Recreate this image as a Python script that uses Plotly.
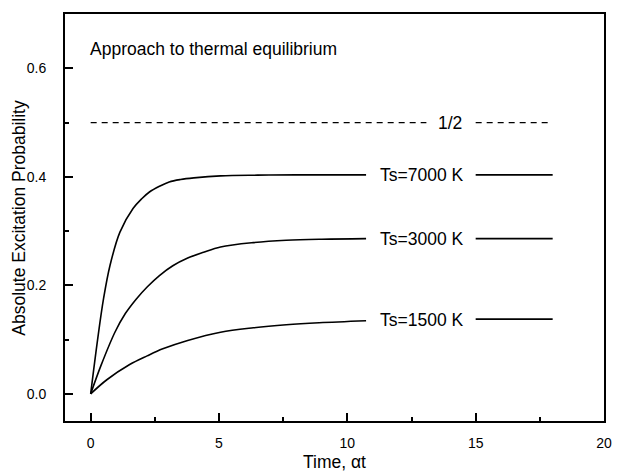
import plotly.graph_objects as go

# ---- data ----
t_7000 = [0, 0.27, 0.5, 0.755, 1.14, 1.65, 2.0, 2.29, 2.7, 3.06, 3.5, 4.02, 5.06, 6.5, 8.0, 10.73, None, 15.0, 18.0]
p_7000 = [0, 0.10, 0.175, 0.237, 0.298, 0.3415, 0.360, 0.372, 0.383, 0.3906, 0.395, 0.398, 0.4017, 0.403, 0.4035, 0.4036, None, 0.4036, 0.4036]

t_3000 = [0, 0.40, 0.95, 1.35, 1.78, 2.2, 2.68, 3.2, 3.78, 4.4, 5.06, 6.34, 7.62, 9.0, 10.73, None, 15.0, 18.0]
p_3000 = [0, 0.052, 0.114, 0.148, 0.175, 0.197, 0.218, 0.236, 0.2503, 0.261, 0.2707, 0.2787, 0.283, 0.285, 0.286, None, 0.286, 0.286]

t_1500 = [0, 0.63, 1.52, 2.2, 2.81, 3.78, 5.06, 6.34, 7.62, 8.9, 10.73, None, 15.0, 18.0]
p_1500 = [0, 0.026, 0.054, 0.070, 0.083, 0.0984, 0.1137, 0.1218, 0.1273, 0.131, 0.1347, None, 0.1378, 0.1378]

t_half = [0, 13.08, None, 15.0, 18.0]
p_half = [0.5, 0.5, None, 0.5, 0.5]

curve_labels = ["Ts=7000 K", "Ts=3000 K", "Ts=1500 K"]
label_t = [12.9, 12.9, 12.9]
label_p = [0.4036, 0.286, 0.137]

x_ticks = [0, 5, 10, 15, 20]
y_ticks = [0.0, 0.2, 0.4, 0.6]

FONT = "Liberation Sans, Arial, sans-serif"
FS = 17.5

fig = go.Figure()
for tx, py in [(t_7000, p_7000), (t_3000, p_3000), (t_1500, p_1500)]:
    fig.add_trace(go.Scatter(x=tx, y=py, mode="lines",
                             line=dict(color="black", width=1.6, shape="spline", smoothing=1.0),
                             connectgaps=False, showlegend=False, hoverinfo="skip"))
fig.add_trace(go.Scatter(x=t_half, y=p_half, mode="lines",
                         line=dict(color="black", width=1.2, dash="6px,5px"),
                         connectgaps=False, showlegend=False, hoverinfo="skip"))

ann = []
for lab, tx, py in zip(curve_labels, label_t, label_p):
    ann.append(dict(x=tx, y=py, xref="x", yref="y", text=lab, showarrow=False,
                    xanchor="center", yanchor="middle", font=dict(size=FS, color="black", family=FONT)))
ann.append(dict(x=14.0, y=0.5, xref="x", yref="y", text="1/2", showarrow=False,
                xanchor="center", yanchor="middle", font=dict(size=FS, color="black", family=FONT)))
ann.append(dict(x=-0.09, y=0.6356, xref="x", yref="y", text="Approach to thermal equilibrium",
                showarrow=False, xanchor="left", yanchor="middle",
                font=dict(size=FS, color="black", family=FONT)))
# axis titles
ann.append(dict(x=0.5, y=(421 - 462) / 407, xref="paper", yref="paper", text="Time, \u03b1t",
                showarrow=False, xanchor="center", yanchor="middle",
                font=dict(size=FS, color="black", family=FONT)))
ann.append(dict(x=(17.5 - 65) / 547, y=0.5, xref="paper", yref="paper",
                text="Absolute Excitation Probability", textangle=-90,
                showarrow=False, xanchor="center", yanchor="middle",
                font=dict(size=FS, color="black", family=FONT)))

axis_common = dict(showline=True, linecolor="black", linewidth=2, mirror=True,
                   ticks="inside", tickcolor="black", tickwidth=1.5, ticklen=8,
                   showgrid=False, zeroline=False,
                   tickfont=dict(size=14, color="black", family=FONT))

fig.update_layout(
    width=620, height=472,
    margin=dict(l=65, r=8, t=14, b=51),
    paper_bgcolor="white", plot_bgcolor="white",
    annotations=ann,
    xaxis=dict(range=[-1, 20], tickvals=x_ticks, ticktext=[str(v) for v in x_ticks],
               minor=dict(ticks="inside", ticklen=4, tickwidth=1.5, tickcolor="black", dtick=2.5, tick0=0),
               ticklabelstandoff=8, **axis_common),
    yaxis=dict(range=[-0.05, 0.7], tickvals=y_ticks, ticktext=["%.1f" % v for v in y_ticks],
               minor=dict(ticks="inside", ticklen=4, tickwidth=1.5, tickcolor="black", dtick=0.1, tick0=0),
               ticklabelstandoff=14, **axis_common),
)

fig.write_html("out.html")
